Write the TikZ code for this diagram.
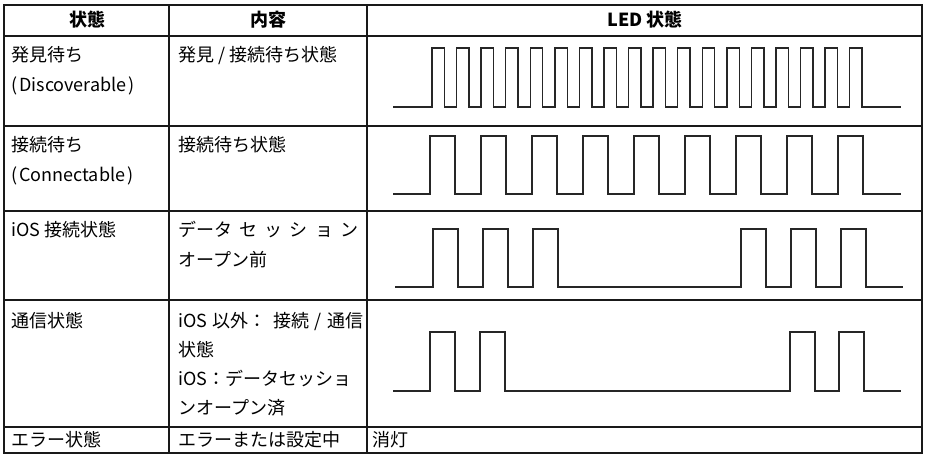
\documentclass[tikz,border=0pt]{standalone}
\usepackage{fontspec}
\setmainfont{Noto Sans CJK JP}
\begin{document}
\begin{tikzpicture}[x=1pt,y=-1pt,
  grid/.style={line width=1.8pt, black!90},
  wave/.style={line width=1.5pt, black!85, line join=miter},
  cell/.style={anchor=west, inner sep=0pt, text height=15.8pt, text depth=2.2pt,
               font=\fontsize{18}{22}\selectfont},
  head/.style={anchor=center, inner sep=0pt, text height=15.8pt, text depth=2.2pt,
               font=\fontsize{18}{22}\selectfont\bfseries}]
\useasboundingbox (0,0) rectangle (925,455);
% table grid
\draw[grid] (4,5) rectangle (922,453);
\draw[grid] (169,5) -- (169,453);
\draw[grid] (367,5) -- (367,453);
\foreach \yy in {36,126,211,300,427}
  \draw[grid] (4,\yy) -- (922,\yy);
% header
\node[head] (h1) at (87,20) {状態};
\node[head] (h2) at (268,20) {内容};
\node[head] (h3) at (645,20) {LED 状態};
% row 1
\node[cell] (a1) at (11,55) {発見待ち};
\node[cell] (a2) at (11,85) {(\hspace{2pt}Discoverable\hspace{2pt})};
\node[cell] (b1) at (178,55) {発見 / 接続待ち状態};
% row 2
\node[cell] (c1) at (11,145) {接続待ち};
\node[cell] (c2) at (11,175) {(\hspace{2pt}Connectable\hspace{2pt})};
\node[cell] (d1) at (178,145) {接続待ち状態};
% row 3
\node[cell] (e1) at (11,230) {iOS 接続状態};
\node[cell] (f1) at (178,230) {\makebox[180pt][s]{データ セ ッ シ ョ ン}};
\node[cell] (f2) at (178,260) {オープン前};
% row 4
\node[cell] (g1) at (11,321) {通信状態};
\node[cell] (k1) at (178,321) {\makebox[185pt][s]{iOS 以外：\hspace{2pt} 接続 / 通信}};
\node[cell] (k2) at (178,350) {状態};
\node[cell] (k3) at (178,379) {iOS：データセッショ};
\node[cell] (k4) at (178,408) {ンオープン済};
% row 5
\node[cell] (m1) at (11,440) {エラー状態};
\node[cell] (m2) at (178,440) {エラーまたは設定中};
\node[cell] (m3) at (372,440) {消灯};
% waveforms
\draw[wave] (393,107) foreach \i in {0,...,17} {
  -- ({432+24.57*\i},107) -- ({432+24.57*\i},48) -- ({444.4+24.57*\i},48) -- ({444.4+24.57*\i},107) }
  -- (901,107);
\draw[wave] (393,194) foreach \i in {0,...,8} {
  -- ({430+51*\i},194) -- ({430+51*\i},136) -- ({455+51*\i},136) -- ({455+51*\i},194) }
  -- (901,194);
\draw[wave] (395,287) foreach \r in {433,483,533,741,791,841} {
  -- (\r,287) -- (\r,229) -- ({\r+25},229) -- ({\r+25},287) }
  -- (903,287);
\draw[wave] (393,391) foreach \r in {430,480,790,839} {
  -- (\r,391) -- (\r,332) -- ({\r+25},332) -- ({\r+25},391) }
  -- (901,391);
\end{tikzpicture}
\end{document}
